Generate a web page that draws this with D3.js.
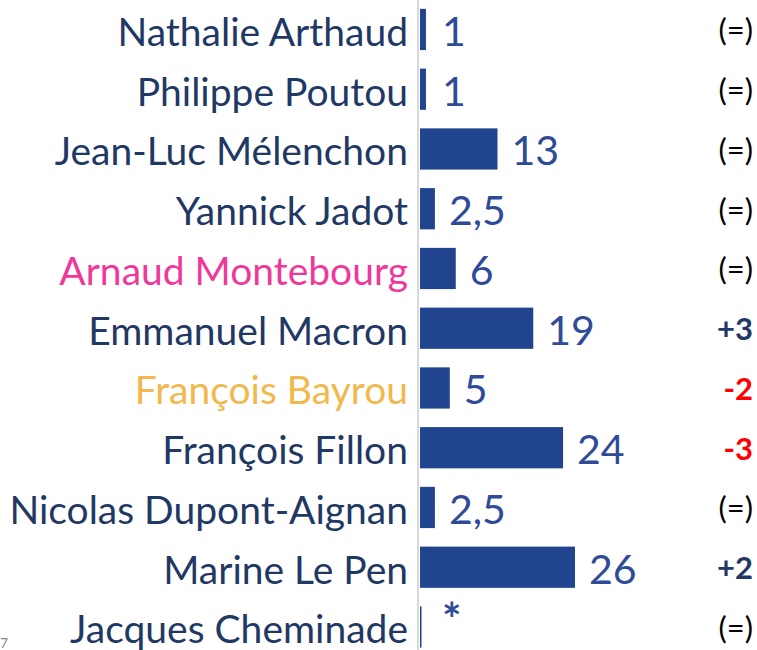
<!DOCTYPE html>
<html>
<head>
<meta charset="utf-8">
<script src="https://cdn.jsdelivr.net/npm/d3@7"></script>
<style>
  html, body { margin: 0; padding: 0; background: #fff; }
  svg { display: block; font-family: Lato, "Open Sans", sans-serif; }
</style>
</head>
<body>
<svg id="chart" width="757" height="650"></svg>
<script>
// candidats, intentions de vote (%) et évolution
var candidates = [
  "Nathalie Arthaud", "Philippe Poutou", "Jean-Luc Mélenchon", "Yannick Jadot",
  "Arnaud Montebourg", "Emmanuel Macron", "François Bayrou", "François Fillon",
  "Nicolas Dupont-Aignan", "Marine Le Pen", "Jacques Cheminade"
];
var scores = [1, 1, 13, 2.5, 6, 19, 5, 24, 2.5, 26, 0];
var scoreLabels = ["1", "1", "13", "2,5", "6", "19", "5", "24", "2,5", "26", "*"];
var changes = ["(=)", "(=)", "(=)", "(=)", "(=)", "+3", "-2", "-3", "(=)", "+2", "(=)"];

var nameColor = {
  "Arnaud Montebourg": "#F0389A",
  "François Bayrou": "#F2B84B"
};

var W = 757, H = 650;
var axisX = 419;
var svg = d3.select("#chart");

var y = d3.scaleBand()
  .domain(candidates)
  .range([-0.4, -0.4 + 59.75 * candidates.length])
  .paddingInner(0.31)
  .paddingOuter(0.155);

var x = d3.scaleLinear()
  .domain([0, 26])
  .range([axisX + 1, 575]);

// axe vertical gris
svg.append("line")
  .attr("x1", axisX - 1).attr("x2", axisX - 1)
  .attr("y1", 0).attr("y2", H)
  .attr("stroke", "#D9D9D9")
  .attr("stroke-width", 2);

var rows = svg.selectAll("g.row")
  .data(candidates)
  .enter().append("g")
  .attr("class", "row");

// barres
rows.append("rect")
  .attr("x", x(0))
  .attr("y", function(d){ return y(d); })
  .attr("height", y.bandwidth())
  .attr("width", function(d, i){ return Math.max(1.5, x(scores[i]) - x(0)); })
  .attr("fill", "#21448F");

// noms
rows.append("text")
  .attr("x", 408)
  .attr("y", function(d){ return y(d) + y.bandwidth() / 2; })
  .attr("dy", "0.42em")
  .attr("text-anchor", "end")
  .attr("font-size", 39)
  .attr("fill", function(d){ return nameColor[d] || "#1F3864"; })
  .text(function(d){ return d; });

// valeurs
rows.append("text")
  .attr("x", function(d, i){ return Math.max(x(scores[i]), x(0) + 8) + 14; })
  .attr("y", function(d){ return y(d) + y.bandwidth() / 2; })
  .attr("dy", function(d, i){ return scoreLabels[i] === "*" ? "0.2em" : "0.4em"; })
  .attr("font-size", function(d, i){ return scoreLabels[i] === "*" ? 46 : 41; })
  .attr("font-weight", function(d, i){ return scoreLabels[i] === "*" ? "bold" : "normal"; })
  .attr("fill", "#2F4A97")
  .text(function(d, i){ return scoreLabels[i]; });

// évolution
rows.append("text")
  .attr("x", 753)
  .attr("y", function(d){ return y(d) + y.bandwidth() / 2; })
  .attr("dy", "0.38em")
  .attr("text-anchor", "end")
  .attr("font-size", 31)
  .attr("font-weight", function(d, i){ return changes[i] === "(=)" ? "normal" : "bold"; })
  .attr("fill", function(d, i){
    var c = changes[i];
    if (c[0] === "-") return "#FF0000";
    if (c[0] === "+") return "#1F3864";
    return "#000";
  })
  .text(function(d, i){ return changes[i]; });

// numéro de diapo
svg.append("text")
  .attr("x", 0).attr("y", 648)
  .attr("font-size", 14)
  .attr("fill", "#888")
  .text("7");
</script>
</body>
</html>
